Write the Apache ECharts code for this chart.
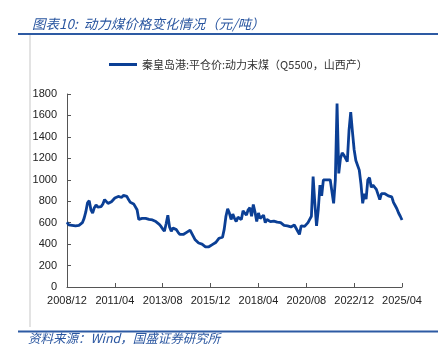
<!DOCTYPE html>
<html>
<head>
<meta charset="utf-8">
<script src="https://cdn.jsdelivr.net/npm/echarts@6/dist/echarts.min.js"></script>
<style>
  html, body { margin: 0; padding: 0; background: #fff; }
  #chart { width: 446px; height: 345px; }
</style>
</head>
<body>
<div id="chart"></div>
<script>
// Monthly axis: 2008/12 through 2025/04
const startYear = 2008, startMonth = 12, monthCount = 197;
const months = [];
for (let i = 0; i < monthCount; i++) {
  const m0 = startMonth - 1 + i;
  const y = startYear + Math.floor(m0 / 12);
  const m = (m0 % 12) + 1;
  months.push(y + '/' + (m < 10 ? '0' + m : m));
}

const seriesName = '秦皇岛港:平仓价:动力末煤（Q5500，山西产）';

// Monthly price, yuan/ton
const price = [
  605, 580, 565, 575, 580, 570, 562, 575, 580, 600, 640, 700,
  785, 805, 720, 690, 740, 765, 745, 735, 750, 775, 815, 800,
  780, 780, 795, 810, 830, 840, 845, 835, 835, 855, 870, 845,
  815, 790, 780, 775, 790, 720, 630, 640, 640, 645, 640, 635,
  630, 625, 625, 615, 610, 600, 585, 565, 540, 520, 590, 670,
  560, 520, 550, 540, 535, 510, 490, 475, 490, 500, 510, 525,
  530, 500, 470, 440, 425, 410, 405, 400, 390, 375, 365, 375,
  385, 395, 405, 415, 435, 455, 450, 465, 540, 660, 730, 690,
  630, 680, 640, 610, 650, 660, 630, 710, 690, 670, 720, 740,
  660, 770, 700, 610, 690, 640, 640, 670, 600, 630, 640, 610,
  600, 615, 625, 605, 600, 600, 590, 575, 580, 570, 565, 560,
  570, 578, 560, 520, 490, 570, 575, 565, 565, 600, 630, 660,
  1030, 780, 570, 720, 950, 850, 1000, 1000, 1000, 1000, 1000, 1000,
  780, 1000, 1710, 1060, 1200, 1250, 1230, 1200, 1170, 1460, 1630, 1450,
  1280, 1180, 1180, 1090, 960, 780, 870, 820, 1000, 1020, 930, 950,
  940, 910, 900, 815, 870, 860, 870, 855, 850, 845, 840, 790,
  760, 730, 690, 660, 625
];

const yTicks = { min: 0, max: 1800, interval: 200 };

const blue = '#2a56a0';
const lineBlue = '#0b3f95';
const kai = '"Noto Sans CJK SC", sans-serif';

const chart = echarts.init(document.getElementById('chart'), null, { renderer: 'canvas' });
chart.setOption({
  backgroundColor: '#fff',
  animation: false,
  title: {
    text: '图表10:  动力煤价格变化情况（元/吨）',
    left: 27, top: 12,
    textStyle: { fontFamily: kai, fontSize: 13.5, fontStyle: 'italic', fontWeight: 'normal', color: blue }
  },
  graphic: [
    { type: 'rect', shape: { x: 18, y: 33, width: 420, height: 2 }, style: { fill: '#2d5aa3' } },
    { type: 'rect', shape: { x: 29.5, y: 35, width: 1, height: 292 }, style: { fill: '#c8c8c8' } },
    { type: 'rect', shape: { x: 18, y: 330.5, width: 420, height: 2 }, style: { fill: '#2d5aa3' } },
    {
      type: 'text', left: 28, top: 332,
      style: { text: '资料来源：Wind，国盛证券研究所', font: 'italic 12.5px ' + kai, fill: blue }
    }
  ],
  legend: {
    left: 104, top: 54,
    icon: 'rect', itemWidth: 28, itemHeight: 3, itemGap: 10,
    textStyle: { fontFamily: kai, fontSize: 11, color: '#333' },
    data: [seriesName]
  },
  grid: { left: 67, right: 44, top: 94, bottom: 58, containLabel: false },
  xAxis: {
    type: 'category',
    data: months,
    boundaryGap: false,
    axisLine: { lineStyle: { color: '#555', width: 1 } },
    axisTick: { inside: true, length: 4, interval: 27, lineStyle: { color: '#555' } },
    axisLabel: { interval: 27, margin: 8, fontFamily: 'Liberation Sans, Arial, sans-serif', fontSize: 11, color: '#222' },
    splitLine: { show: false }
  },
  yAxis: {
    type: 'value',
    min: yTicks.min, max: yTicks.max, interval: yTicks.interval,
    axisLine: { show: true, lineStyle: { color: '#555', width: 1 } },
    axisTick: { show: true, inside: true, length: 4, lineStyle: { color: '#555' } },
    axisLabel: {
      margin: 10, fontFamily: 'Liberation Sans, Arial, sans-serif', fontSize: 11, color: '#222',
      formatter: (v) => String(v)
    },
    splitLine: { show: false }
  },
  series: [{
    name: seriesName,
    type: 'line',
    data: price,
    symbol: 'none',
    lineStyle: { color: lineBlue, width: 2.8 },
    itemStyle: { color: lineBlue }
  }]
});
</script>
</body>
</html>
